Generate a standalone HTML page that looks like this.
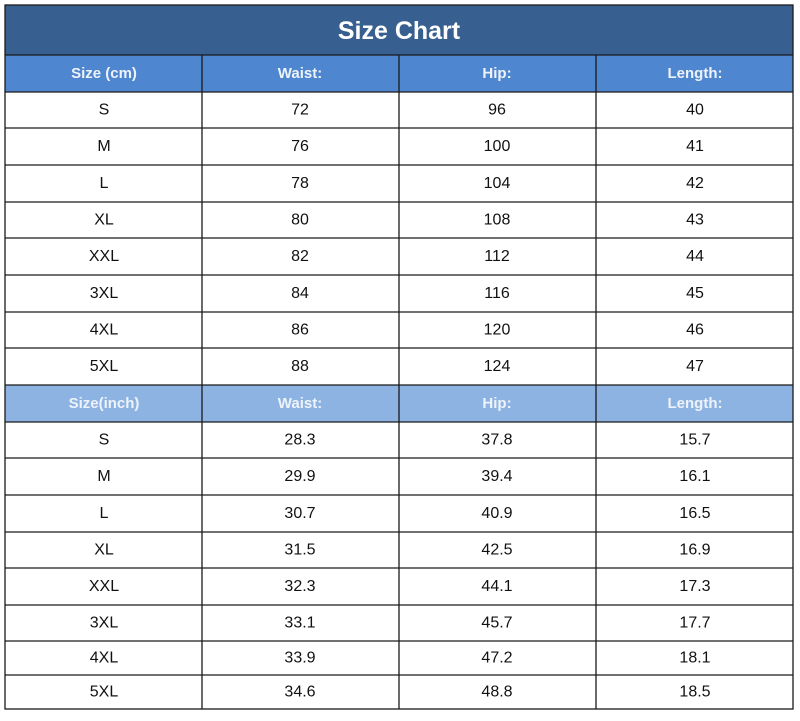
<!DOCTYPE html>
<html><head><meta charset="utf-8"><style>
body{margin:0;background:#fff;}
svg text{font-family:"Liberation Sans",sans-serif;text-anchor:middle;dominant-baseline:central;font-size:16px;fill:#111;}
svg .h text{font-weight:bold;font-size:15px;fill:#eef3fa;}
</style></head><body>
<svg width="800" height="716" xmlns="http://www.w3.org/2000/svg">
<rect x="0" y="0" width="800" height="716" fill="#fff"/>
<rect x="5" y="5" width="788" height="50" fill="#375f8f"/>
<text x="399" y="31" style="fill:#fff;font-size:25px;font-weight:bold">Size Chart</text>
<rect x="5" y="55" width="788" height="37" fill="#4f86d0"/>
<rect x="5" y="385" width="788" height="37" fill="#8db3e2"/>
<g class="h">
<text x="104" y="73.5">Size (cm)</text><text x="300" y="73.5">Waist:</text><text x="497" y="73.5">Hip:</text><text x="695" y="73.5">Length:</text>
<text x="104" y="403.5">Size(inch)</text><text x="300" y="403.5">Waist:</text><text x="497" y="403.5">Hip:</text><text x="695" y="403.5">Length:</text>
</g>
<g>
<text x="104" y="110">S</text><text x="300" y="110">72</text><text x="497" y="110">96</text><text x="695" y="110">40</text>
<text x="104" y="146.5">M</text><text x="300" y="146.5">76</text><text x="497" y="146.5">100</text><text x="695" y="146.5">41</text>
<text x="104" y="183.5">L</text><text x="300" y="183.5">78</text><text x="497" y="183.5">104</text><text x="695" y="183.5">42</text>
<text x="104" y="220">XL</text><text x="300" y="220">80</text><text x="497" y="220">108</text><text x="695" y="220">43</text>
<text x="104" y="256.5">XXL</text><text x="300" y="256.5">82</text><text x="497" y="256.5">112</text><text x="695" y="256.5">44</text>
<text x="104" y="293.5">3XL</text><text x="300" y="293.5">84</text><text x="497" y="293.5">116</text><text x="695" y="293.5">45</text>
<text x="104" y="330">4XL</text><text x="300" y="330">86</text><text x="497" y="330">120</text><text x="695" y="330">46</text>
<text x="104" y="366.5">5XL</text><text x="300" y="366.5">88</text><text x="497" y="366.5">124</text><text x="695" y="366.5">47</text>
<text x="104" y="440">S</text><text x="300" y="440">28.3</text><text x="497" y="440">37.8</text><text x="695" y="440">15.7</text>
<text x="104" y="476.5">M</text><text x="300" y="476.5">29.9</text><text x="497" y="476.5">39.4</text><text x="695" y="476.5">16.1</text>
<text x="104" y="513.5">L</text><text x="300" y="513.5">30.7</text><text x="497" y="513.5">40.9</text><text x="695" y="513.5">16.5</text>
<text x="104" y="550">XL</text><text x="300" y="550">31.5</text><text x="497" y="550">42.5</text><text x="695" y="550">16.9</text>
<text x="104" y="586.5">XXL</text><text x="300" y="586.5">32.3</text><text x="497" y="586.5">44.1</text><text x="695" y="586.5">17.3</text>
<text x="104" y="623">3XL</text><text x="300" y="623">33.1</text><text x="497" y="623">45.7</text><text x="695" y="623">17.7</text>
<text x="104" y="658">4XL</text><text x="300" y="658">33.9</text><text x="497" y="658">47.2</text><text x="695" y="658">18.1</text>
<text x="104" y="692">5XL</text><text x="300" y="692">34.6</text><text x="497" y="692">48.8</text><text x="695" y="692">18.5</text>
</g>
<g stroke="#1a1a1a" stroke-width="1.3">
<line x1="5" x2="793" y1="55" y2="55"/><line x1="5" x2="793" y1="92" y2="92"/><line x1="5" x2="793" y1="128" y2="128"/>
<line x1="5" x2="793" y1="165" y2="165"/><line x1="5" x2="793" y1="202" y2="202"/><line x1="5" x2="793" y1="238" y2="238"/>
<line x1="5" x2="793" y1="275" y2="275"/><line x1="5" x2="793" y1="312" y2="312"/><line x1="5" x2="793" y1="348" y2="348"/>
<line x1="5" x2="793" y1="385" y2="385"/><line x1="5" x2="793" y1="422" y2="422"/><line x1="5" x2="793" y1="458" y2="458"/>
<line x1="5" x2="793" y1="495" y2="495"/><line x1="5" x2="793" y1="532" y2="532"/><line x1="5" x2="793" y1="568" y2="568"/>
<line x1="5" x2="793" y1="605" y2="605"/><line x1="5" x2="793" y1="641" y2="641"/><line x1="5" x2="793" y1="675" y2="675"/>
<line x1="202" x2="202" y1="55" y2="709"/><line x1="399" x2="399" y1="55" y2="709"/><line x1="596" x2="596" y1="55" y2="709"/>
<rect x="5" y="5" width="788" height="704" fill="none"/>
</g>
</svg>
</body></html>
